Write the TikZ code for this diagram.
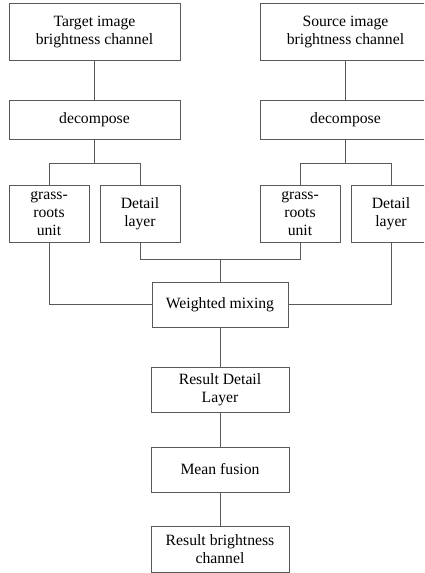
\documentclass[tikz,border=0pt]{standalone}
\usepackage{fontspec}
\setmainfont{Liberation Serif}
\usepackage{tikz}

\tikzset{
  box/.style={draw=black!65, line width=0.8pt, align=center, inner sep=0pt,
    font=\fontsize{15.7}{18}\selectfont},
  link/.style={draw=black!65, line width=0.8pt}
}

\begin{document}
\begin{tikzpicture}[x=1pt, y=-1pt]
\useasboundingbox (0,0) rectangle (424,573);
\clip (0,0) rectangle (424,573);

\node[box, minimum width=171pt, minimum height=57pt] (tgt)  at (94.5,31.5)  {Target image\\brightness channel};
\node[box, minimum width=171pt, minimum height=57pt] (src)  at (345.5,31.5) {Source image\\brightness channel};
\node[box, minimum width=171pt, minimum height=39pt] (dec1) at (94.5,119.5)  {decompose};
\node[box, minimum width=171pt, minimum height=39pt] (dec2) at (345.5,119.5) {decompose};
\coordinate (j1) at (94.5,163);
\coordinate (j2) at (345.5,163);
\node[box, minimum width=80pt, minimum height=57pt] (g1) at (49,213.5)  {grass-\\roots\\unit};
\node[box, minimum width=80pt, minimum height=57pt] (d1) at (140,213.5) {Detail\\layer};
\node[box, minimum width=80pt, minimum height=57pt] (g2) at (300,213.5) {grass-\\roots\\unit};
\node[box, minimum width=80pt, minimum height=57pt] (d2) at (391,213.5) {Detail\\layer};
\coordinate (jm) at (220,259);
\node[box, minimum width=136pt, minimum height=45pt] (mix)  at (220,304.5) {Weighted mixing};
\node[box, minimum width=138pt, minimum height=45pt] (rdl)  at (220,389.5) {Result Detail\\Layer};
\node[box, minimum width=138pt, minimum height=45pt] (mean) at (220,469.5) {Mean fusion};
\node[box, minimum width=138pt, minimum height=46pt] (res)  at (220,549)   {Result brightness\\channel};

\draw[link] (tgt) -- (dec1);
\draw[link] (src) -- (dec2);
\draw[link] (dec1) -- (j1);
\draw[link] (dec2) -- (j2);
\draw[link] (g1) |- (j1);
\draw[link] (d1) |- (j1);
\draw[link] (g2) |- (j2);
\draw[link] (d2) |- (j2);

\draw[link] (d1) |- (jm);
\draw[link] (g2) |- (jm);
\draw[link] (jm) -- (mix);
\draw[link] (g1) |- (mix);
\draw[link] (d2) |- (mix);

\draw[link] (mix) -- (rdl);
\draw[link] (rdl) -- (mean);
\draw[link] (mean) -- (res);
\end{tikzpicture}
\end{document}
